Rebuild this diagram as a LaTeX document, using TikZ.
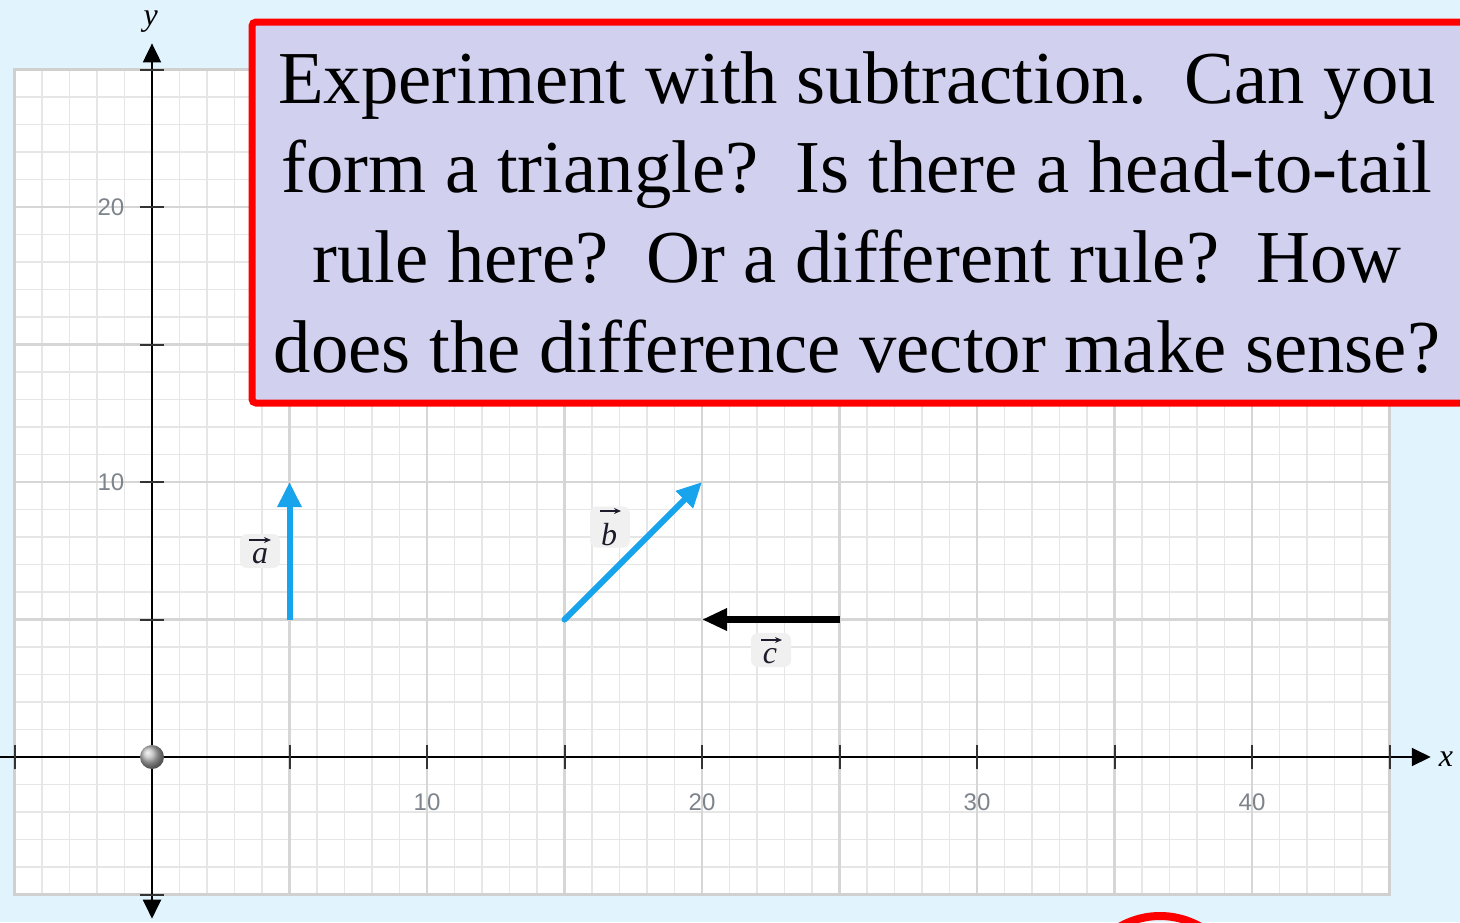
\documentclass[tikz,border=0pt]{standalone}
\usepackage{fontspec}
\setmainfont{Liberation Serif}
\newfontfamily\numfont{Liberation Sans}
\usetikzlibrary{arrows.meta,shadings}
\definecolor{bg}{HTML}{E1F4FD}
\definecolor{boxfill}{HTML}{D1D1EF}
\definecolor{gridminor}{HTML}{E6E6E6}
\definecolor{gridmajor}{HTML}{D6D6D6}
\definecolor{gridframe}{HTML}{D0D0D0}
\definecolor{vecblue}{HTML}{18A4EC}
\definecolor{numgray}{HTML}{7E848C}
\definecolor{lblfill}{HTML}{F0F0F0}
\definecolor{tickgray}{HTML}{333333}
\definecolor{lblink}{HTML}{1C1C2C}
\frenchspacing
\tikzset{
  minorline/.style={gridminor, line width=1.8pt},
  majorline/.style={gridmajor, line width=2.2pt},
  axisline/.style={black, line width=2pt},
  ticks/.style={tickgray, line width=2pt},
  numlbl/.style={numgray, font=\numfont\fontsize{24}{24}\selectfont, inner sep=0pt},
  lblbox/.style={fill=lblfill, rounded corners=7pt, minimum width=40pt, minimum height=34pt, inner sep=0pt},
  lbltext/.style={lblink, anchor=base, inner sep=0pt, font=\fontsize{32}{32}\selectfont\itshape},
  overarrow/.style={lblink, line width=1.4pt, -{Stealth[length=7pt,width=6pt]}},
  axlbl/.style={inner sep=0pt, font=\fontsize{32}{32}\selectfont\itshape},
  bluevec/.style={vecblue, line width=6pt, -{Triangle[length=25pt,width=23pt]}},
  blackvec/.style={black, line width=7pt, -{Triangle[length=25pt,width=21pt]}},
  qline/.style={anchor=base, inner sep=0pt, font=\fontsize{74.7}{89}\selectfont},
}
\begin{document}
\begin{tikzpicture}[x=1pt,y=-1pt]
\useasboundingbox (0,0) rectangle (1460,922);
\clip (0,0) rectangle (1460,922);
\fill[bg] (0,0) rectangle (1460,922);
% graph
\begin{scope}[shift={(152,757)}, x=27.5pt, y=27.5pt]
  \fill[white] (-5,-5) rectangle (45,25);
  \foreach \i in {-5,...,45} \draw[minorline] (\i,-5) -- (\i,25);
  \foreach \j in {-5,...,25} \draw[minorline] (-5,\j) -- (45,\j);
  \foreach \i in {-5,0,...,45} \draw[majorline] (\i,-5) -- (\i,25);
  \foreach \j in {-5,0,...,25} \draw[majorline] (-5,\j) -- (45,\j);
  \draw[gridframe, line width=2.5pt] (-5,-5) rectangle (45,25);
  % axes
  \coordinate (xl) at (-5.6,0);
  \coordinate (xr) at (46.5,0);
  \coordinate (yb) at (0,-5.88);
  \coordinate (yt) at (0,25.95);
  \draw[axisline, -{Triangle[length=19pt,width=18pt]}] (xl) -- (xr);
  \draw[axisline, {Triangle[length=19pt,width=18pt]}-{Triangle[length=19pt,width=18pt]}] (yb) -- (yt);
  \foreach \i in {-5,5,10,...,45} \draw[ticks] (\i,-0.45) -- (\i,0.45);
  \foreach \j in {-5,5,10,15,20,25} \draw[ticks] (-0.45,\j) -- (0.45,\j);
  \node[axlbl] (xlab) at (47.05,-0.08) {x};
  \node[axlbl] (ylab) at (-0.05,26.75) {y};
  \node[numlbl] (n10) at (10,-1.64) {10};
  \node[numlbl] (n20) at (20,-1.64) {20};
  \node[numlbl] (n30) at (30,-1.64) {30};
  \node[numlbl] (n40) at (40,-1.64) {40};
  \node[numlbl, anchor=east] (m10) at (-1.0,10) {10};
  \node[numlbl, anchor=east] (m20) at (-1.0,20) {20};
  \shade[ball color=gray!55] (0,0) circle (12pt);
  % vectors
  \coordinate (a0) at (5,5);  \coordinate (a1) at (5,10);
  \coordinate (b0) at (15,5); \coordinate (b1) at (20,10);
  \coordinate (c0) at (25,5); \coordinate (c1) at (20,5);
  \draw[bluevec] (a0) -- (a1);
  \draw[bluevec, line cap=round] (b0) -- (b1);
  \draw[blackvec] (c0) -- (c1);
\end{scope}
% vector labels
\node[lblbox] (la) at (260,551) {};
\node[lbltext] (ta) at (260,563) {a};
\coordinate (aa0) at (249,540); \coordinate (aa1) at (271,540);
\draw[overarrow] (aa0) -- (aa1);
\node[lblbox, minimum height=41pt] (lb) at (610,527) {};
\node[lbltext] (tb) at (609,545) {b};
\coordinate (ab0) at (600,511); \coordinate (ab1) at (621,511);
\draw[overarrow] (ab0) -- (ab1);
\node[lblbox] (lc) at (771,650) {};
\node[lbltext] (tc) at (770,663) {c};
\coordinate (ac0) at (761,640); \coordinate (ac1) at (782,640);
\draw[overarrow] (ac0) -- (ac1);
% question box
\draw[red, line width=7pt, fill=boxfill, rounded corners=4pt] (252,22) rectangle (1470,403);
\node[qline] (q1) at (857,103) {Experiment with subtraction.~ Can you};
\node[qline] (q2) at (857,192.7) {form a triangle?~ Is there a head-to-tail};
\node[qline] (q3) at (857,282.3) {rule here?~ Or a different rule?~ How};
\node[qline] (q4) at (857,372) {does the difference vector make sense?};
% red circle at bottom
\draw[red, line width=8pt] (1160,997) circle (81pt);
\end{tikzpicture}
\end{document}
